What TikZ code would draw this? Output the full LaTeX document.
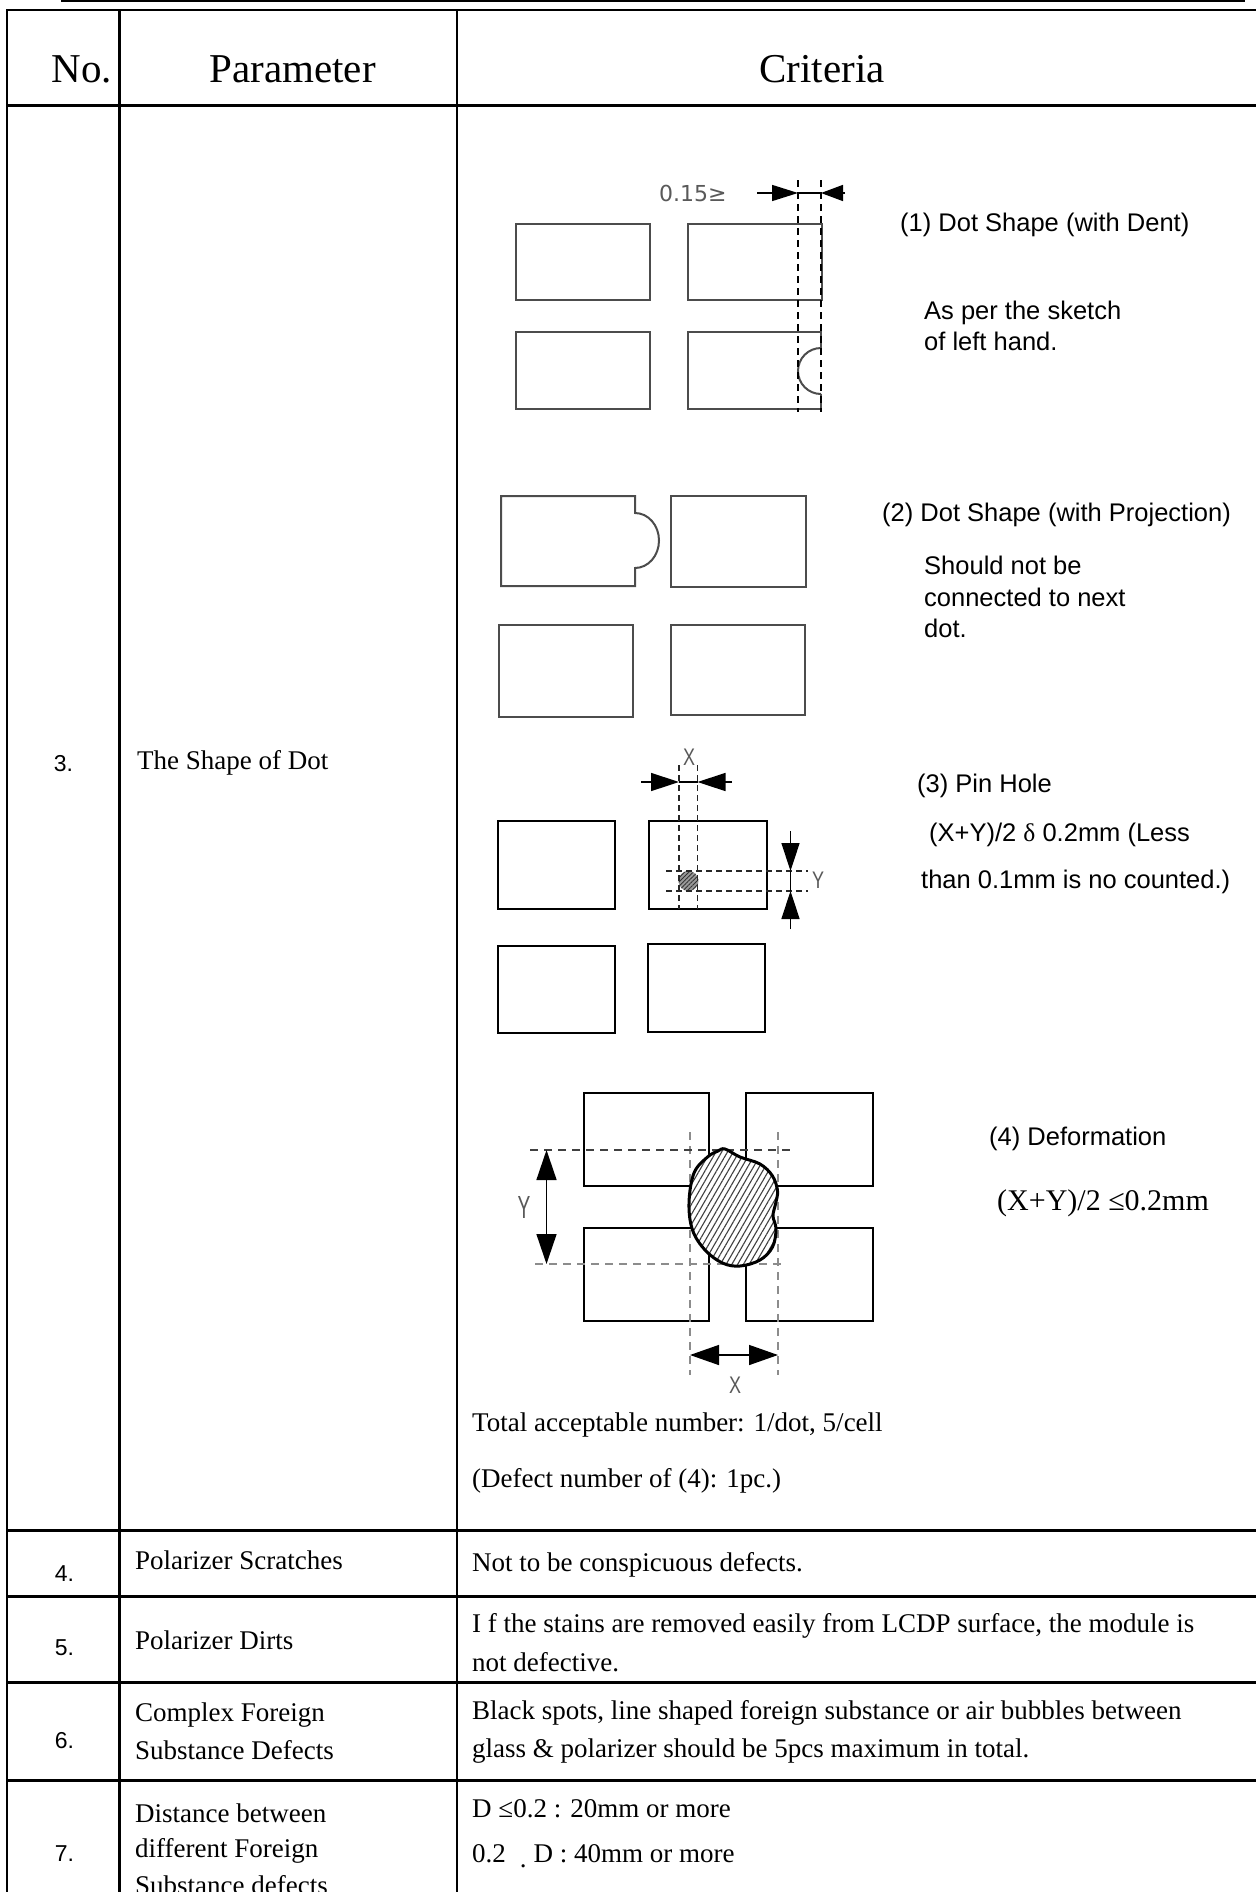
\documentclass[tikz,border=0pt]{standalone}
\usepackage{fontspec}
\setmainfont{Liberation Serif}
\newfontfamily\arialf{Liberation Sans}
\newfontfamily\dejavuf{DejaVu Sans}
\usetikzlibrary{arrows.meta,patterns.meta}
\begin{document}
\begin{tikzpicture}[x=1pt,y=-1pt,
  tcell/.style={font=\fontsize{27}{37}\selectfont, anchor=base west, inner sep=0pt},
  hdr/.style={font=\fontsize{41}{45}\selectfont, anchor=base, inner sep=0pt},
  numlab/.style={font=\arialf\fontsize{23}{27}\selectfont, anchor=base, inner sep=0pt},
  dlab/.style={font=\arialf\fontsize{25.5}{31}\selectfont, anchor=base west, inner sep=0pt},
  glab/.style={font=\arialf\fontsize{24}{26}\selectfont, text=black!65, inner sep=0pt},
  tblv/.style={line width=2.5pt},
  rowline/.style={line width=3pt},
  dotA/.style={draw=black!70, line width=2pt},
  dotB/.style={draw=black, line width=2pt},
  dashA/.style={draw=black, line width=1.6pt, dash pattern=on 7pt off 5pt},
  dashB/.style={draw=black!85, line width=1.5pt, dash pattern=on 6pt off 4pt},
  dashC/.style={draw=black!45, line width=2pt, dash pattern=on 8pt off 6pt},
  dimln/.style={line width=1.5pt},
  bigtip/.style={-{Triangle[length=28pt,width=18pt]}},
]
\useasboundingbox (0,0) rectangle (1256,1892);
\clip (0,0) rectangle (1256,1892);

% ---------- table frame ----------
\draw[line width=2pt] (61,1) -- (1245,1);
\draw[line width=2pt] (6,10.5) -- (1256,10.5);
\draw[tblv] (7,9.5) -- (7,1892);
\draw[tblv] (119.5,9.5) -- (119.5,1892);
\draw[tblv] (457,9.5) -- (457,1892);
\draw[rowline] (6,106) -- (1256,106);
\draw[rowline] (6,1530) -- (1256,1530);
\draw[rowline] (6,1596) -- (1256,1596);
\draw[rowline] (6,1682) -- (1256,1682);
\draw[rowline] (6,1780) -- (1256,1780);

% ---------- header ----------
\node[hdr] (hno) at (82,83) {No.};
\node[hdr] (hpar) at (292.6,83) {Parameter};
\node[hdr] (hcrit) at (822,83) {Criteria};

% ---------- left columns ----------
\node[numlab] (n3) at (63.5,771) {3.};
\node[tcell] (p3) at (137,769) {The Shape of Dot};
\node[numlab] (n4) at (64.5,1581) {4.};
\node[tcell] (p4) at (135,1569) {Polarizer Scratches};
\node[numlab] (n5) at (64.5,1655) {5.};
\node[tcell] (p5) at (135,1649) {Polarizer Dirts};
\node[numlab] (n6) at (64.5,1748) {6.};
\node[tcell] (p6a) at (135,1721) {Complex Foreign};
\node[tcell] (p6b) at (135,1759) {Substance Defects};
\node[numlab] (n7) at (64.5,1861) {7.};
\node[tcell] (p7a) at (135,1822) {Distance between};
\node[tcell] (p7b) at (135,1857) {different Foreign};
\node[tcell] (p7c) at (135,1894) {Substance defects};

% ---------- criteria texts ----------
\node[tcell] (c3a) at (472,1431) {Total acceptable number: 1/dot, 5/cell};
\node[tcell] (c3b) at (472,1487) {(Defect number of (4): 1pc.)};
\node[tcell] (c4) at (472,1571) {Not to be conspicuous defects.};
\node[tcell] (c5a) at (472,1632) {I f the stains are removed easily from LCDP surface, the module is};
\node[tcell] (c5b) at (472,1671) {not defective.};
\node[tcell] (c6a) at (472,1719) {Black spots, line shaped foreign substance or air bubbles between};
\node[tcell] (c6b) at (472,1757) {glass \& polarizer should be 5pcs maximum in total.};
\node[tcell] (c7a) at (472,1817) {D ≤0.2 : 20mm or more};
\node[tcell] (c7b) at (472,1862) {0.2\hspace{14pt}\raisebox{-5pt}{.}\hspace{7pt}D : 40mm or more};

% ---------- (1) dent ----------
\draw[dotA] (516,224) rectangle (650,300);
\draw[dotA] (688,224) rectangle (822,300);
\draw[dotA] (516,332) rectangle (650,409);
\draw[dotA] (821,348) -- (821,332) -- (688,332) -- (688,409) -- (821,409) -- (821,394);
\draw[dotA] (821,348) arc[start angle=-90,end angle=-270,radius=23];
\draw[dashA] (798,180) -- (798,412);
\draw[dashA] (821,180) -- (821,412);
\draw[dimln,-{Triangle[length=26pt,width=16pt]}] (757,193) -- (798,193);
\draw[dimln] (798,193) -- (821,193);
\draw[dimln,-{Triangle[length=22pt,width=16pt]}] (845,193) -- (821,193);
\node[font=\dejavuf\fontsize{22}{24}\selectfont, text=black!65, anchor=west, inner sep=0pt] (d015) at (659,193) {0.15≥};
\node[dlab] (t1) at (900,231) {(1) Dot Shape (with Dent)};
\node[dlab] (t1a) at (924,319) {As per the sketch};
\node[dlab] (t1b) at (924,350) {of left hand.};

% ---------- (2) projection ----------
\draw[dotA] (635,513) -- (635,496) -- (501,496) -- (501,586) -- (635,586) -- (635,568)
   arc[start angle=90,end angle=-90,x radius=24,y radius=27.5] -- cycle;
\draw[dotA] (671,496) rectangle (806,587);
\draw[dotA] (499,625) rectangle (633,717);
\draw[dotA] (671,625) rectangle (805,715);
\node[dlab] (t2) at (882,521) {(2) Dot Shape (with Projection)};
\node[dlab] (t2a) at (924,574) {Should not be};
\node[dlab] (t2b) at (924,606) {connected to next};
\node[dlab] (t2c) at (924,637) {dot.};

% ---------- (3) pin hole ----------
\draw[dotB] (498,821) rectangle (615,909);
\draw[dotB] (649,821) rectangle (766.5,909);
\draw[dotB] (498,946) rectangle (615,1033);
\draw[dotB] (647.5,944) rectangle (765,1032);
\fill[black!40] (688.5,881) circle (10);
\fill[pattern={Lines[angle=45,distance=3pt,line width=0.9pt]}, pattern color=black!80] (688.5,881) circle (10);
\draw[dashB] (679,765) -- (679,909);
\draw[dashB] (697.5,765) -- (697.5,909);
\draw[dashB] (666,871) -- (807.5,871);
\draw[dashB] (666,891) -- (807.5,891);
\draw[dimln,bigtip] (641,782) -- (679,782);
\draw[dimln] (679,782) -- (697.5,782);
\draw[dimln,bigtip] (732,782) -- (697.5,782);
\draw[dimln,bigtip] (790.5,831) -- (790.5,871);
\draw[dimln] (790.5,871) -- (790.5,891);
\draw[dimln,bigtip] (790.5,929) -- (790.5,891);
\node[glab] (px) at (689,757) {\scalebox{0.75}[1]{X}};
\node[glab] (py) at (818,880) {\scalebox{0.75}[1]{Y}};
\node[dlab] (t3) at (917,792) {(3) Pin Hole};
\node[dlab] (t3a) at (929,841) {(X+Y)/2 {\rmfamily δ} 0.2mm (Less};
\node[dlab] (t3b) at (921,888) {than 0.1mm is no counted.)};

% ---------- (4) deformation ----------
\draw[dotB] (583.5,1093) rectangle (709,1186);
\draw[dotB] (745.5,1093) rectangle (873,1186);
\draw[dotB] (583.5,1228) rectangle (709,1321);
\draw[dotB] (745.5,1228) rectangle (873,1321);
\draw[dashC] (690,1132) -- (690,1375);
\draw[dashC] (778,1132) -- (778,1375);
\draw[dashC, draw=black!75] (530,1150) -- (792.5,1150);
\draw[dashC] (535,1264) -- (786,1264);
\def\blobpts{(725,1149) (740,1157) (760,1164) (772.5,1176) (777.5,1191) (775.5,1204) (773,1216) (776,1229) (772.5,1247) (760,1260) (740,1266) (722.5,1263) (705,1250) (692.5,1230) (689,1203) (694,1173) (707.5,1157) (718,1151)}
\fill[white] plot[smooth cycle, tension=0.6] coordinates {\blobpts};
\fill[pattern={Lines[angle=60,distance=5pt,line width=1.1pt]}, pattern color=black!75] plot[smooth cycle, tension=0.6] coordinates {\blobpts};
\draw[line width=3pt] plot[smooth cycle, tension=0.6] coordinates {\blobpts};
\draw[dimln,{Triangle[length=30pt,width=20pt]}-{Triangle[length=30pt,width=20pt]}] (546.5,1150) -- (546.5,1264);
\draw[dimln,{Triangle[length=29pt,width=20pt]}-{Triangle[length=29pt,width=20pt]}] (690,1355) -- (778,1355);
\node[glab, font=\arialf\fontsize{32}{34}\selectfont] (dy) at (524,1207) {\scalebox{0.6}[1]{Y}};
\node[glab] (dx) at (735,1385) {\scalebox{0.75}[1]{X}};
\node[dlab] (t4) at (989,1145) {(4) Deformation};
\node[font=\fontsize{30}{34}\selectfont, anchor=base west, inner sep=0pt] (t4a) at (997,1210) {(X+Y)/2 ≤0.2mm};
\end{tikzpicture}
\end{document}
